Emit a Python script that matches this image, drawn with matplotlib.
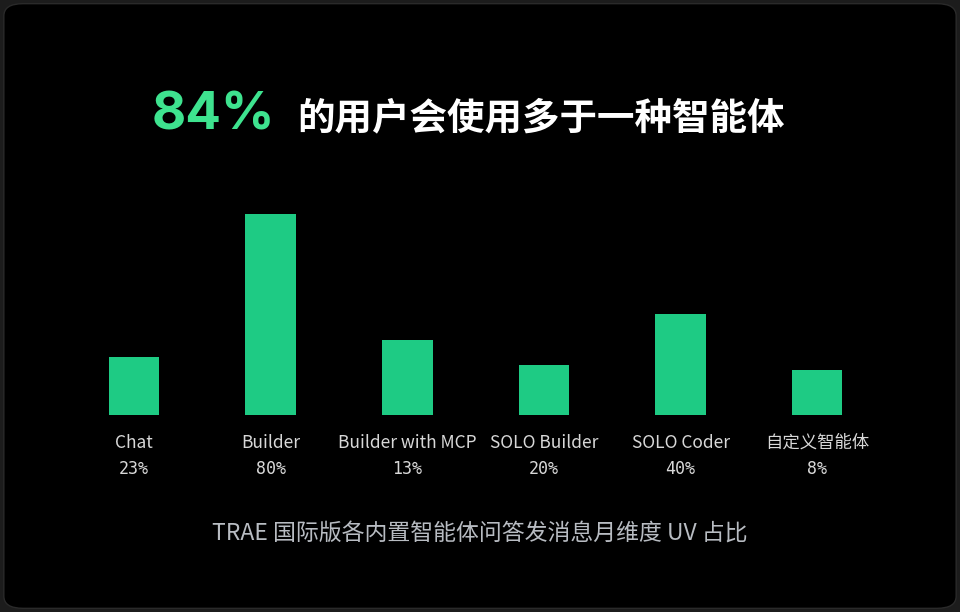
import matplotlib.pyplot as plt
from matplotlib.patches import FancyBboxPatch

plt.rcParams['font.family'] = ['Noto Sans CJK SC', 'DejaVu Sans']

# ── data ──
categories = ["Chat", "Builder", "Builder with MCP", "SOLO Builder", "SOLO Coder", "自定义智能体"]
bar_heights = [23, 80, 30, 20, 40, 18]   # heights as drawn in the picture
value_labels = ["23%", "80%", "13%", "20%", "40%", "8%"]

headline_num = "84%"
headline_text = "的用户会使用多于一种智能体"
footnote = "TRAE 国际版各内置智能体问答发消息月维度 UV 占比"

BAR = "#1ecb84"
GREEN = "#3ee38f"

fig = plt.figure(figsize=(9.6, 6.12), dpi=100)
fig.patch.set_facecolor("#1c1c1c")
fig.patches.append(FancyBboxPatch((0.004, 0.006), 0.992, 0.988,
                                  boxstyle="round,pad=0,rounding_size=0.02",
                                  transform=fig.transFigure, facecolor="black",
                                  edgecolor="#2a2a2a", linewidth=1, zorder=-10))

ax = fig.add_axes([0.0684, 0.322, 0.854, 0.3284])
ax.set_facecolor("none")
x = range(len(categories))
ax.bar(x, bar_heights, width=0.37, color=BAR)
ax.set_xlim(-0.5, 5.5)
ax.set_ylim(0, 80)
ax.axis("off")

for i, (cat, lab) in enumerate(zip(categories, value_labels)):
    ax.text(i, -11, cat, ha="center", va="center", color="#d8d8d8", fontsize=12.5)
    ax.text(i, -21.5, lab, ha="center", va="center", color="#d8d8d8", fontsize=12,
            family=["DejaVu Sans Mono"])

fig.text(0.287, 0.81, headline_num, ha="right", va="center", color=GREEN,
         fontsize=38, fontweight="bold", family=["Inter", "DejaVu Sans"])
fig.text(0.31, 0.808, headline_text, ha="left", va="center", color="white",
         fontsize=27, fontweight="bold")
fig.text(0.5, 0.128, footnote, ha="center", va="center", color="#b8bcc2", fontsize=16.5)

fig.savefig("out.png", dpi=100, facecolor=fig.get_facecolor())
